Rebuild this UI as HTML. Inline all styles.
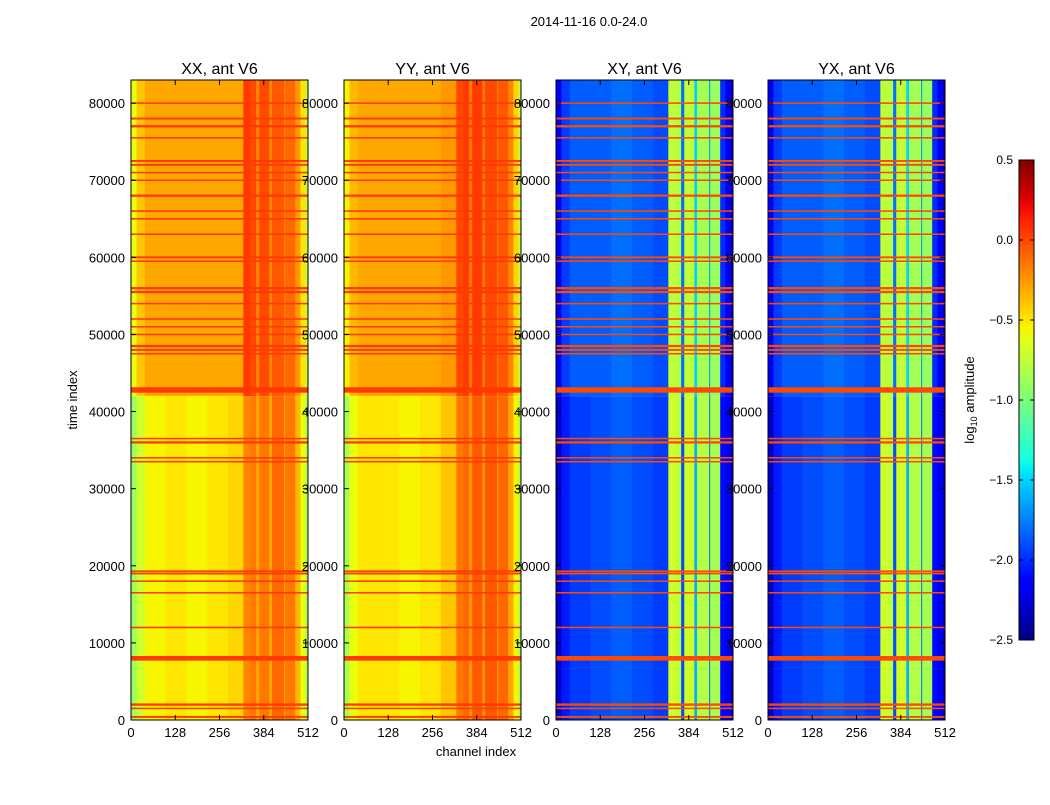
<!DOCTYPE html>
<html><head><meta charset="utf-8"><style>
body{margin:0;background:#fff;font-family:"Liberation Sans",sans-serif}
svg text{font-family:"Liberation Sans","DejaVu Sans",sans-serif}
</style></head><body>
<svg id="fig" width="1050" height="800" xmlns="http://www.w3.org/2000/svg">
<rect width="1050" height="800" fill="#fff"/>
<text x="589" y="26" font-size="13" text-anchor="middle">2014-11-16 0.0-24.0</text>
<text x="476" y="756" font-size="13" text-anchor="middle">channel index</text>
<text x="77" y="400" font-size="13" text-anchor="middle" transform="rotate(-90 77 400)">time index</text>
<text x="974" y="400" font-size="13" text-anchor="middle" transform="rotate(-90 974 400)">log<tspan font-size="9" dy="3">10</tspan><tspan dy="-3"> amplitude</tspan></text>
</svg>
<script>
// channel segment starts (last = end)
const segStart = [0,16,40,100,160,220,280,325,345,362,371,400,408,443,446,475,490,505,512];
const xxLow  = [-0.9,-0.7,-0.55,-0.5,-0.55,-0.5,-0.45,-0.2,-0.15,-0.3,-0.15,-0.3,-0.1,-0.3,-0.15,-0.35,-0.6,-0.85];
const xxHigh = [-0.6,-0.4,-0.3,-0.3,-0.3,-0.3,-0.3,0.05,0.0,-0.2,0.0,-0.2,-0.05,-0.2,-0.1,-0.25,-0.5,-0.75];
const yyLow  = [-0.85,-0.6,-0.5,-0.5,-0.55,-0.5,-0.4,-0.15,-0.1,-0.25,-0.05,-0.25,-0.05,-0.25,-0.1,-0.3,-0.55,-0.85];
const yyHigh = [-0.55,-0.35,-0.3,-0.3,-0.3,-0.3,-0.25,0.0,0.05,-0.15,0.05,-0.15,0.0,-0.15,-0.05,-0.2,-0.45,-0.75];
const xyLow  = [-2.3,-2.05,-1.95,-1.9,-1.85,-1.9,-1.95,-0.7,-0.75,-1.9,-0.7,-1.6,-0.8,-1.8,-0.85,-2.1,-2.2,-2.3];
const xyHigh = [-2.2,-1.95,-1.85,-1.85,-1.8,-1.85,-1.9,-0.75,-0.8,-1.8,-0.75,-1.5,-0.85,-1.7,-0.9,-2.0,-2.2,-2.3];
const yxLow  = [-2.3,-2.05,-1.95,-1.9,-1.85,-1.9,-1.95,-0.7,-0.75,-1.9,-0.7,-1.6,-0.8,-1.8,-0.85,-2.1,-2.2,-2.3];
const yxHigh = [-2.2,-1.95,-1.85,-1.85,-1.8,-1.85,-1.9,-0.75,-0.8,-1.8,-0.75,-1.5,-0.85,-1.7,-0.9,-2.0,-2.2,-2.3];
const splitTime = 42000;
// horizontal RFI line events: time, thickness (time units)
const lineTimes = [400,1500,2000,8000,12000,16500,18000,19000,19300,33500,34000,36000,36500,42800,47500,48000,48500,50000,51000,52000,54000,55500,56000,59500,60000,63000,65000,66000,68000,70000,71000,72000,72500,75500,77000,78000,80000];
const lineWidths = [250,200,300,600,200,200,200,250,200,200,200,300,200,700,200,250,300,200,200,200,200,300,300,200,250,200,200,200,300,200,200,250,250,200,300,250,200];
const panelTitles = ["XX, ant V6","YY, ant V6","XY, ant V6","YX, ant V6"];
const lineVals = [0.05,0.05,0.0,0.0];
const xTicks = [0,128,256,384,512];
const yTicks = [0,10000,20000,30000,40000,50000,60000,70000,80000];
const cbTicks = [0.5,0.0,-0.5,-1.0,-1.5,-2.0,-2.5];

const lows=[xxLow,yyLow,xyLow,yxLow], highs=[xxHigh,yyHigh,xyHigh,yxHigh];
const panelX=[131,344,556,768], PW=177, PT=80, PH=640, TMAX=83000, VMIN=-2.5, VMAX=0.5;
const NS="http://www.w3.org/2000/svg", svg=document.getElementById('fig');
const JR=[[0,0],[0.35,0],[0.66,1],[0.89,1],[1,0.5]];
const JG=[[0,0],[0.125,0],[0.375,1],[0.64,1],[0.91,0],[1,0]];
const JB=[[0,0.5],[0.11,1],[0.34,1],[0.65,0],[1,0]];
function interp(seg,t){for(let i=1;i<seg.length;i++){if(t<=seg[i][0]){const a=seg[i-1],b=seg[i];return a[1]+(b[1]-a[1])*(t-a[0])/(b[0]-a[0]);}}return seg[seg.length-1][1];}
function jet(v){let t=(v-VMIN)/(VMAX-VMIN);t=Math.max(0,Math.min(1,t));
 const f=x=>Math.round(255*x);
 return `rgb(${f(interp(JR,t))},${f(interp(JG,t))},${f(interp(JB,t))})`;}
function mk(tag,attrs,parent){const e=document.createElementNS(NS,tag);for(const k in attrs)e.setAttribute(k,attrs[k]);(parent||svg).appendChild(e);return e;}
const fmt=v=>(v<0?'\u2212':'')+Math.abs(v).toFixed(1);
for(let p=0;p<4;p++){
 const x0=panelX[p];
 const sx=c=>x0+c/512*PW, sy=t=>PT+PH-t/TMAX*PH;
 yTicks.forEach(t=>{const y=sy(t);
  const tx=mk('text',{x:x0-6,y:y+5,'font-size':13,'text-anchor':'end'});tx.textContent=t;
  
  
 });
 const g=mk('g',{});
 
 
 for(let s=0;s<segStart.length-1;s++){
  const xa=sx(segStart[s]), xb=sx(segStart[s+1]);
  const r1=mk('rect',{x:xa,y:sy(TMAX),width:xb-xa+0.3,height:sy(splitTime)-sy(TMAX),fill:jet(highs[p][s])},g);
  
  
  const r2=mk('rect',{x:xa,y:sy(splitTime),width:xb-xa+0.3,height:sy(0)-sy(splitTime),fill:jet(lows[p][s])},g);
  
  
 }
 lineTimes.forEach((t,i)=>{
  const h=Math.max(1.2,lineWidths[i]/TMAX*PH);
  const l=mk('rect',{x:x0,y:sy(t)-h/2,width:PW,height:h,fill:jet(lineVals[p])},g);
  
  
 });
 mk('rect',{x:x0,y:PT,width:PW,height:PH,fill:'none',stroke:'#000','stroke-width':1});
 const ti=mk('text',{x:x0+PW/2,y:74,'font-size':16,'text-anchor':'middle'});
 ti.textContent=panelTitles[p];
 
 
 xTicks.forEach(c=>{const x=sx(c);
  mk('line',{x1:x,x2:x,y1:PT+PH,y2:PT+PH-5,stroke:'#000'});
  mk('line',{x1:x,x2:x,y1:PT,y2:PT+5,stroke:'#000'});
  const tx=mk('text',{x:x,y:PT+PH+17,'font-size':13,'text-anchor':'middle'});tx.textContent=c;
  
  
 });
 yTicks.forEach(t=>{const y=sy(t);
  mk('line',{x1:x0,x2:x0+5,y1:y,y2:y,stroke:'#000'});
  mk('line',{x1:x0+PW,x2:x0+PW-5,y1:y,y2:y,stroke:'#000'});
 });
}
// colorbar
const cbX=1019,cbW=15,cbT=160,cbH=480;
const defs=mk('defs',{});const lg=mk('linearGradient',{id:'jetg',x1:0,y1:1,x2:0,y2:0},defs);
for(let i=0;i<=40;i++){mk('stop',{offset:i/40,'stop-color':jet(VMIN+(VMAX-VMIN)*i/40)},lg);}
const cb=mk('rect',{x:cbX,y:cbT,width:cbW,height:cbH,fill:'url(#jetg)',stroke:'#000'});


cbTicks.forEach(v=>{const y=cbT+cbH-(v-VMIN)/(VMAX-VMIN)*cbH;
 mk('line',{x1:cbX,x2:cbX+4,y1:y,y2:y,stroke:'#000'});
 mk('line',{x1:cbX+cbW,x2:cbX+cbW-4,y1:y,y2:y,stroke:'#000'});
 const tx=mk('text',{x:1013,y:y+4,'font-size':12,'text-anchor':'end'});tx.textContent=fmt(v);
 
 
});
</script>
</body></html>
